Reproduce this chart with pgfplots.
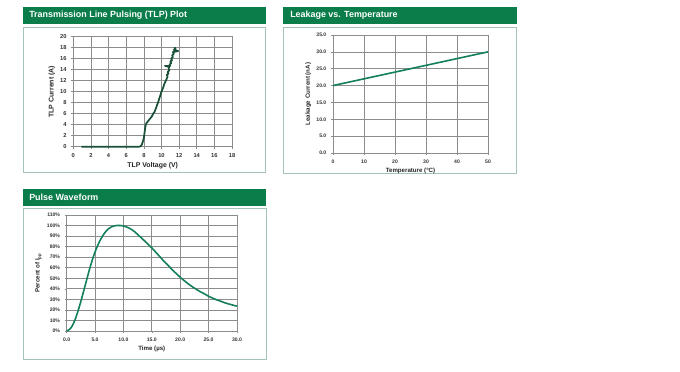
\documentclass[border=0pt]{standalone}
\usepackage{pgfplots}
\pgfplotsset{compat=1.18}
\usepackage{fontspec}
\setmainfont{Liberation Sans}
\definecolor{hdr}{RGB}{10,125,75}
\definecolor{boxc}{RGB}{165,195,185}
\definecolor{tlp}{RGB}{25,80,55}
\definecolor{lk}{RGB}{20,128,88}
\definecolor{gridc}{RGB}{140,140,140}
\newcommand{\tkf}{\bfseries\fontsize{4.3}{5}\selectfont}
\newcommand{\lbf}{\bfseries\fontsize{5.2}{6}\selectfont}
\newcommand{\hdf}{\bfseries\fontsize{6.7}{8}\selectfont}
\pgfplotsset{
  panel/.style={
    scale only axis,
    axis line style={gridc, line width=0.5pt},
    grid=major,
    grid style={gridc, line width=0.5pt},
    tick style={gridc, line width=0.4pt},
    tick align=outside,
    major tick length=1.5pt,
    xtick pos=bottom, ytick pos=left,
    ticklabel style={font=\tkf, text=black!80},
    label style={font=\lbf, text=black!85},
    /pgf/number format/assume math mode=true,
    clip=false,
  }
}
\begin{document}
\begin{tikzpicture}
\fill[white] (0,0) rectangle (510pt,278.25pt);
% panel 1
\fill[hdr] (17.25pt,260.25pt) rectangle (199.5pt,273pt);
\node[anchor=west, text=white, font=\hdf, inner sep=0pt] at (21.75pt,266.6pt) {Transmission Line Pulsing (TLP) Plot};
\draw[boxc, line width=0.75pt] (17.25pt,148.5pt) rectangle (198.75pt,257.25pt);
% panel 2
\fill[hdr] (212.25pt,260.25pt) rectangle (387.75pt,273pt);
\node[anchor=west, text=white, font=\hdf, inner sep=0pt] at (217.5pt,266.6pt) {Leakage vs. Temperature};
\draw[boxc, line width=0.75pt] (212.25pt,147.75pt) rectangle (387pt,257.25pt);
% panel 3
\fill[hdr] (17.25pt,123.75pt) rectangle (199.5pt,136.5pt);
\node[anchor=west, text=white, font=\hdf, inner sep=0pt] at (21.75pt,130.1pt) {Pulse Waveform};
\draw[boxc, line width=0.75pt] (17.25pt,9pt) rectangle (199.5pt,121.5pt);

\begin{axis}[panel, at={(55pt,168.2pt)}, anchor=south west,
  width=119pt, height=82.5pt,
  xmin=0, xmax=18, ymin=0, ymax=20,
  xtick={0,2,...,18}, ytick={0,2,...,20},
  xlabel={TLP Voltage (V)}, ylabel={TLP Current (A)},
  xlabel style={yshift=3pt}, ylabel style={yshift=-3pt}]
\addplot[tlp, line width=1.3pt, line join=round] coordinates {
(0.9,0) (7.4,0) (7.6,0.05) (7.7,0.2) (7.8,0.5) (7.9,1.0) (8.0,1.6) (8.05,2.2)
(8.1,2.8) (8.15,3.4) (8.2,3.9) (8.3,4.3) (8.4,4.5) (8.5,4.7) (8.6,4.9) (8.7,5.1)
(8.8,5.3) (8.9,5.5) (9.0,5.8) (9.1,6.1) (9.2,6.3) (9.3,6.7) (9.4,7.1) (9.5,7.6)
(9.6,8.0) (9.7,8.5) (9.8,9.0) (9.9,9.5) (10.0,10.0) (10.1,10.4) (10.2,10.8)
(10.3,11.3) (10.4,11.7) (10.5,12.0) (10.6,12.4) (10.7,12.8) (10.6,13.1) (10.8,13.3)
(10.7,13.6) (10.9,13.9) (10.8,14.2) (10.9,14.5) (10.4,14.7) (11.0,14.7) (10.9,14.9)
(11.1,15.2) (11.0,15.5) (11.2,15.7) (11.1,16.0) (11.3,16.3) (11.2,16.6) (11.4,16.9)
(11.3,17.2) (11.9,17.4) (11.4,17.6) (11.6,17.8) (11.5,18.0) (11.6,17.6) (11.5,17.3)
};
\end{axis}

\begin{axis}[panel, at={(249.75pt,163.5pt)}, anchor=south west,
  width=116.25pt, height=88.5pt,
  xmin=0, xmax=50, ymin=0, ymax=35,
  xtick={0,10,...,50}, ytick={0,5,...,35},
  ticklabel style={font=\bfseries\fontsize{3.8}{4.5}\selectfont},
  yticklabel style={/pgf/number format/.cd, fixed, fixed zerofill, precision=1},
  xlabel={Temperature (°C)}, ylabel={Leakage Current (nA)},
  xlabel style={yshift=3pt, font=\bfseries\fontsize{4.6}{5.5}\selectfont},
  ylabel style={yshift=-3pt, font=\bfseries\fontsize{4.6}{5.5}\selectfont}]
\addplot[lk, line width=1.2pt] coordinates {(0,20) (10,22) (20,24) (30,26) (40,28) (50,30)};
\end{axis}

\begin{axis}[panel, at={(50pt,30pt)}, anchor=south west,
  width=127.7pt, height=87pt,
  xmin=0, xmax=30, ymin=0, ymax=110,
  xtick={0,5,...,30}, ytick={0,10,...,110},
  ticklabel style={font=\bfseries\fontsize{3.8}{4.5}\selectfont},
  xticklabel style={/pgf/number format/.cd, fixed, fixed zerofill, precision=1},
  yticklabel={\pgfmathprintnumber{\tick}\%},
  xlabel={Time (µs)}, ylabel={Percent of I\textsubscript{pp}},
  xlabel style={yshift=3pt, font=\bfseries\fontsize{4.6}{5.5}\selectfont},
  ylabel style={yshift=-3pt, font=\bfseries\fontsize{4.6}{5.5}\selectfont}]
\addplot[lk, line width=1.2pt, smooth] coordinates {
(0,0) (0.5,1.5) (1,5) (1.5,11) (2,19) (2.5,28) (3,38) (3.5,48) (4,58) (4.5,67)
(5,75) (5.5,81.5) (6,87) (6.5,91.5) (7,95) (7.5,97.5) (8,99) (8.5,99.8) (9,100.1)
(9.5,100) (10,99.6) (10.5,98.8) (11,97.6) (11.5,96) (12,94) (12.5,91.6) (13,89.1)
(13.5,86.6) (14,84) (14.5,81.4) (15,78.8) (15.5,75.9) (16,73) (16.5,70) (17,67)
(17.5,64.2) (18,61.5) (18.5,58.7) (19,56) (19.5,53.5) (20,51) (20.5,48.7) (21,46.5)
(21.5,44.4) (22,42.5) (22.5,40.7) (23,39) (23.5,37.4) (24,36) (24.5,34.5) (25,33)
(25.5,31.7) (26,30.5) (26.5,29.4) (27,28.5) (27.5,27.5) (28,26.5) (28.5,25.7)
(29,25) (29.5,24.2) (30,23.5)
};
\end{axis}
\end{tikzpicture}
\end{document}
